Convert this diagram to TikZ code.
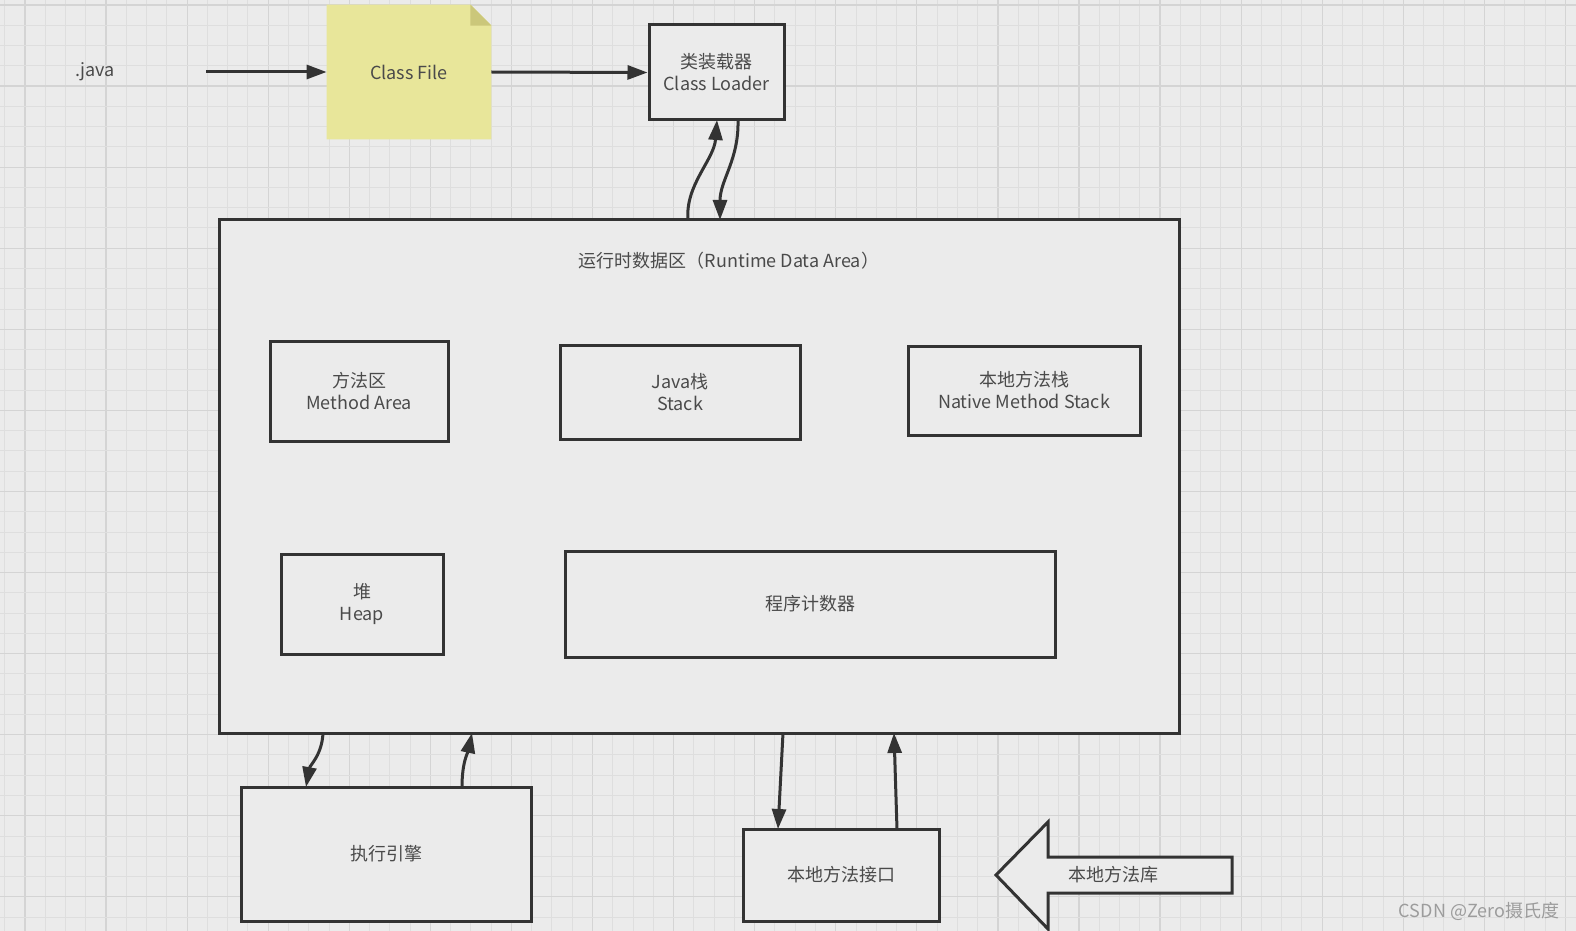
\documentclass[tikz,border=0pt]{standalone}
\usepackage{fontspec}
\newfontfamily\cjk{Noto Sans CJK SC}
\usetikzlibrary{arrows.meta}
\definecolor{bg}{HTML}{EBEBEB}
\definecolor{gridminor}{HTML}{DEDEDE}
\definecolor{gridmajor}{HTML}{D4D4D4}
\definecolor{ink}{HTML}{333333}
\definecolor{txt}{HTML}{4A4A4A}
\definecolor{note}{HTML}{E8E69A}
\definecolor{notefold}{HTML}{CBC77A}
\definecolor{mark}{HTML}{9C9C9C}
\tikzset{
  box/.style={draw=ink, line width=1.5pt, fill=bg, align=center, text=txt,
    font=\cjk\fontsize{9}{11}\selectfont, inner sep=0pt},
  lbl/.style={align=center, text=txt, font=\cjk\fontsize{9}{11}\selectfont, inner sep=0pt},
  conn/.style={draw=ink, line width=1.5pt, -{Triangle[length=10pt,width=7pt]}},
}
\begin{document}
\begin{tikzpicture}[x=0.5pt,y=-0.5pt]
\useasboundingbox (0,0) rectangle (1576,931);
\fill[bg] (0,0) rectangle (1576,931);
% grid
\foreach \i in {0,...,77} {
  \pgfmathsetmacro\xx{4.7+20.27*\i}
  \pgfmathtruncatemacro\m{mod(\i,4)}
  \ifnum\m=1 \draw[gridmajor, line width=0.6pt] (\xx,0) -- (\xx,931);
  \else \draw[gridminor, line width=0.5pt] (\xx,0) -- (\xx,931); \fi
}
\foreach \i in {0,...,46} {
  \pgfmathsetmacro\yy{5+20.27*\i}
  \pgfmathtruncatemacro\m{mod(\i,4)}
  \ifnum\m=0 \draw[gridmajor, line width=0.6pt] (0,\yy) -- (1576,\yy);
  \else \draw[gridminor, line width=0.5pt] (0,\yy) -- (1576,\yy); \fi
}

% top row
\node[lbl, minimum width=111pt, minimum height=20pt] (java) at (95,72) {\raisebox{-1.5pt}{.java}};
\node[lbl, minimum width=82pt, minimum height=67pt] (cf) at (409,72) {};
\fill[note] (cf.north west) -- ([xshift=-10.5pt]cf.north east) -- ([yshift=-10.5pt]cf.north east) -- (cf.south east) -- (cf.south west) -- cycle;
\fill[notefold] ([xshift=-10.5pt]cf.north east) -- ([yshift=-10.5pt]cf.north east) -- ([xshift=-10.5pt,yshift=-10.5pt]cf.north east) -- cycle;
\node[lbl] (cftext) at (cf.center) {Class File};
\node[box, minimum width=67.5pt, minimum height=47.5pt] (cl) at (716.5,72.5) {类装载器\\Class Loader};

\draw[conn] (java.east) -- (cf.west);
\draw[conn] (cf.east) -- (cl.west);

% runtime data area
\node[box, minimum width=480pt, minimum height=256.5pt] (rda) at (699,476.5) {};
\node[lbl] (title) at (729,261) {运行时数据区（Runtime Data Area）};
\node[box, minimum width=89pt, minimum height=50pt] (ma) at (359,391) {方法区\\Method Area};
\node[box, minimum width=120pt, minimum height=47pt] (js) at (680,392) {Java栈\\Stack};
\node[box, minimum width=116pt, minimum height=44.5pt] (nms) at (1024,390.5) {本地方法栈\\Native Method Stack};
\node[box, minimum width=81pt, minimum height=50pt] (heap) at (362,604) {堆\\Heap};
\node[box, minimum width=245pt, minimum height=53pt] (pc) at (810,604) {程序计数器};

% bottom
\node[box, minimum width=145pt, minimum height=67pt] (ee) at (386,854) {执行引擎};
\node[box, minimum width=98pt, minimum height=46pt] (nmi) at (841,875) {本地方法接口};

% connector endpoints
\coordinate (a1s) at (688,220);
\coordinate (a1e) at (717,120);
\coordinate (a2s) at (738,120);
\coordinate (a2e) at (720,220);
\coordinate (b1s) at (323,733);
\coordinate (b1e) at (306,787);
\coordinate (b2s) at (462,787);
\coordinate (b2e) at (472,733);
\coordinate (c1s) at (783,733);
\coordinate (c1e) at (778,829);
\coordinate (c2s) at (897,829);
\coordinate (c2e) at (894,733);

\draw[conn] (a1s) .. controls (685,185) and (714,160) .. (a1e);
\draw[conn] (a2s) .. controls (739,160) and (720,180) .. (a2e);
\draw[conn] (b1s) .. controls (322,755) and (310,765) .. (b1e);
\draw[conn] (b2s) .. controls (462,762) and (468,752) .. (b2e);
\draw[conn] (c1s) -- (c1e);
\draw[conn] (c2s) -- (c2e);

% native library block arrow
\draw[draw=ink, line width=1.5pt, fill=bg, line join=miter]
  (996,875) -- (1048,822) -- (1048,857) -- (1232,857) -- (1232,893) -- (1048,893) -- (1048,929) -- cycle;
\node[lbl] (nml) at (1113,875) {本地方法库};

% watermark
\node[text=mark, font=\cjk\fontsize{9}{11}\selectfont, inner sep=0pt] (wm) at (1479,911) {CSDN @Zero摄氏度};
\end{tikzpicture}
\end{document}
